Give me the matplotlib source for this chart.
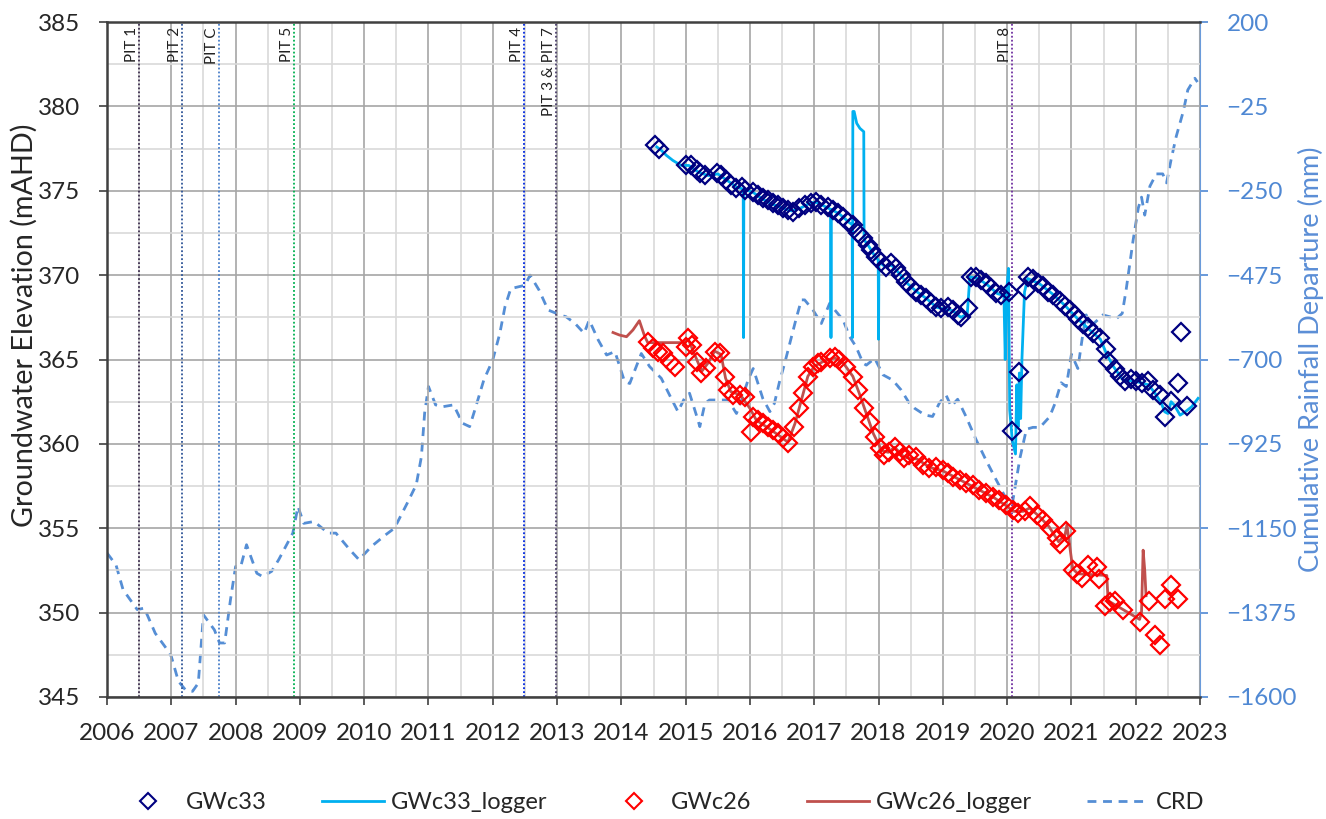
import matplotlib
matplotlib.use('Agg')
import matplotlib.pyplot as plt
from matplotlib.ticker import MultipleLocator
from matplotlib.lines import Line2D

plt.rcParams['font.family'] = ['Lato', 'DejaVu Sans']

# CRD - desviacion acumulada de lluvia (mm), eje derecho
crd_year = [2006.00, 2006.14, 2006.25, 2006.47, 2006.58, 2006.75, 2006.92, 2007.00, 2007.11, 2007.22,
            2007.33, 2007.42, 2007.50, 2007.67, 2007.75, 2007.83, 2007.92, 2008.00, 2008.08, 2008.17,
            2008.33, 2008.42, 2008.56, 2008.67, 2008.89, 2008.97, 2009.06, 2009.22, 2009.44, 2009.56,
            2009.78, 2009.92, 2010.11, 2010.33, 2010.47, 2010.67, 2010.81, 2010.89, 2010.94, 2011.00,
            2011.11, 2011.22, 2011.39, 2011.53, 2011.64, 2011.72, 2011.86, 2012.00, 2012.11, 2012.19,
            2012.28, 2012.50, 2012.58, 2012.72, 2012.86, 2013.06, 2013.14, 2013.28, 2013.42, 2013.50,
            2013.64, 2013.77, 2013.90, 2014.05, 2014.13, 2014.31, 2014.44, 2014.62, 2014.75, 2014.88,
            2014.98, 2015.06, 2015.19, 2015.22, 2015.30, 2015.37, 2015.53, 2015.66, 2015.79, 2015.87,
            2015.97, 2016.05, 2016.20, 2016.31, 2016.38, 2016.46, 2016.54, 2016.62, 2016.72, 2016.80,
            2016.85, 2016.98, 2017.11, 2017.24, 2017.32, 2017.45, 2017.55, 2017.65, 2017.76, 2017.81,
            2017.94, 2018.07, 2018.22, 2018.35, 2018.48, 2018.56, 2018.72, 2018.84, 2018.95, 2019.05,
            2019.13, 2019.23, 2019.36, 2019.52, 2019.67, 2019.83, 2019.98, 2020.08, 2020.20, 2020.30,
            2020.40, 2020.51, 2020.66, 2020.74, 2020.84, 2020.92, 2021.00, 2021.10, 2021.18, 2021.23,
            2021.28, 2021.49, 2021.70, 2021.79, 2021.85, 2021.96, 2022.04, 2022.09, 2022.14, 2022.22,
            2022.32, 2022.42, 2022.48, 2022.55, 2022.63, 2022.74, 2022.81, 2022.92, 2022.96]
crd_mm = [-1216, -1248, -1314, -1367, -1363, -1430, -1470, -1492, -1558, -1581,
          -1585, -1563, -1381, -1421, -1456, -1456, -1341, -1252, -1252, -1194,
          -1270, -1279, -1265, -1234, -1163, -1092, -1137, -1132, -1163, -1163,
          -1208, -1234, -1199, -1168, -1150, -1083, -1034, -959, -843, -772,
          -821, -826, -821, -870, -879, -835, -755, -701, -630, -559,
          -511, -502, -475, -515, -568, -582, -586, -604, -630, -595,
          -648, -688, -679, -759, -764, -684, -719, -750, -795, -839,
          -804, -790, -861, -879, -817, -808, -808, -808, -844, -808,
          -755, -724, -804, -839, -817, -759, -710, -657, -590, -541,
          -541, -568, -604, -550, -568, -595, -639, -666, -710, -715,
          -697, -741, -755, -781, -817, -830, -848, -852, -815, -795,
          -825, -806, -852, -915, -968, -1021, -1070, -1085, -962, -886,
          -881, -881, -853, -819, -762, -772, -686, -724, -629, -581,
          -615, -581, -591, -577, -515, -381, -296, -267, -315, -238,
          -205, -205, -229, -167, -105, -38, 19, 50, 40]

# GWc33 - lecturas manuales (mAHD)
gwc33_year = [2014.52, 2014.59, 2015.01, 2015.09, 2015.17, 2015.22, 2015.30, 2015.48, 2015.55, 2015.63,
              2015.71, 2015.79, 2015.87, 2015.92, 2016.05, 2016.12, 2016.20, 2016.28, 2016.36, 2016.44,
              2016.51, 2016.59, 2016.67, 2016.77, 2016.85, 2016.95, 2017.03, 2017.11, 2017.21, 2017.29,
              2017.37, 2017.45, 2017.52, 2017.60, 2017.68, 2017.76, 2017.83, 2017.89, 2017.96, 2018.04,
              2018.12, 2018.20, 2018.27, 2018.35, 2018.43, 2018.51, 2018.59, 2018.66, 2018.74, 2018.82,
              2018.90, 2018.97, 2019.08, 2019.16, 2019.23, 2019.28, 2019.39, 2019.44, 2019.52, 2019.60,
              2019.67, 2019.75, 2019.83, 2019.91, 2020.03, 2020.08, 2020.19, 2020.29, 2020.33, 2020.40,
              2020.48, 2020.56, 2020.64, 2020.72, 2020.82, 2020.90, 2020.97, 2021.05, 2021.10, 2021.18,
              2021.26, 2021.34, 2021.44, 2021.54, 2021.57, 2021.67, 2021.75, 2021.83, 2021.93, 2022.01,
              2022.09, 2022.19, 2022.27, 2022.37, 2022.45, 2022.55, 2022.66, 2022.71, 2022.79]
gwc33_level = [377.70, 377.45, 376.53, 376.53, 376.23, 376.03, 375.93, 376.03, 375.93, 375.64,
               375.34, 375.14, 375.24, 375.05, 374.95, 374.75, 374.55, 374.45, 374.25, 374.16,
               373.96, 373.86, 373.76, 373.96, 374.16, 374.25, 374.35, 374.16, 374.06, 373.86,
               373.66, 373.47, 373.17, 372.97, 372.48, 372.18, 371.79, 371.49, 371.10, 370.80,
               370.50, 370.70, 370.40, 370.00, 369.61, 369.32, 369.02, 368.82, 368.62, 368.33,
               368.13, 368.03, 368.13, 367.93, 367.64, 367.54, 368.03, 369.90, 369.90, 369.71,
               369.51, 369.21, 368.92, 368.82, 369.00, 360.76, 364.25, 369.12, 369.86, 369.75,
               369.54, 369.33, 369.01, 368.80, 368.48, 368.17, 367.95, 367.64, 367.42, 367.11,
               366.90, 366.58, 366.26, 365.63, 364.89, 364.46, 364.04, 363.72, 363.83, 363.72,
               363.62, 363.72, 363.19, 362.87, 361.60, 362.56, 363.62, 366.62, 362.24]

# GWc33 - datalogger
gwc33_log_year = [2014.55, 2014.62, 2014.70, 2014.80, 2014.93, 2015.05, 2015.20, 2015.35, 2015.50, 2015.65,
                  2015.80, 2015.895, 2015.90, 2015.905, 2016.05, 2016.20, 2016.35, 2016.50, 2016.65, 2016.80,
                  2016.95, 2017.05, 2017.20, 2017.255, 2017.26, 2017.265, 2017.40, 2017.55, 2017.59, 2017.595,
                  2017.60, 2017.62, 2017.66, 2017.71, 2017.77, 2017.775, 2017.85, 2017.93, 2017.995, 2018.00,
                  2018.005, 2018.10, 2018.20, 2018.30, 2018.45, 2018.60, 2018.75, 2018.90, 2019.00, 2019.15,
                  2019.28, 2019.38, 2019.42, 2019.55, 2019.70, 2019.85, 2019.95, 2019.97, 2019.99, 2020.02,
                  2020.04, 2020.08, 2020.13, 2020.15, 2020.17, 2020.19, 2020.21, 2020.23, 2020.27, 2020.32,
                  2020.50, 2020.70, 2020.90, 2021.10, 2021.30, 2021.45, 2021.55, 2021.65, 2021.80, 2022.00,
                  2022.20, 2022.30, 2022.40, 2022.45, 2022.50, 2022.55, 2022.60, 2022.69, 2022.77, 2022.87,
                  2022.97]
gwc33_log_level = [377.6, 377.4, 377.1, 376.8, 376.5, 376.5, 376.1, 375.9, 376.0, 375.6,
                   375.2, 375.1, 366.3, 375.1, 374.9, 374.5, 374.2, 374.0, 373.8, 374.0,
                   374.3, 374.3, 374.0, 373.9, 366.3, 373.9, 373.6, 373.1, 373.0, 366.3,
                   379.7, 379.7, 379.0, 378.7, 378.5, 372.1, 371.7, 371.2, 370.9, 366.2,
                   370.8, 370.5, 370.6, 370.2, 369.5, 369.0, 368.6, 368.1, 368.0, 367.9,
                   367.5, 367.7, 369.9, 369.8, 369.4, 368.9, 368.8, 365.0, 368.9, 370.4,
                   362.0, 360.2, 359.4, 363.5, 361.0, 364.2, 361.5, 365.0, 369.0, 369.8,
                   369.5, 368.9, 368.2, 367.4, 366.7, 366.2, 365.3, 364.6, 363.8, 363.7,
                   363.5, 363.0, 362.4, 361.9, 361.8, 362.5, 362.3, 361.7, 361.9, 362.2,
                   362.7]

# GWc26 - lecturas manuales (mAHD)
gwc26_year = [2014.41, 2014.49, 2014.57, 2014.65, 2014.75, 2014.84, 2015.00, 2015.04, 2015.10, 2015.17,
              2015.24, 2015.32, 2015.45, 2015.53, 2015.61, 2015.66, 2015.74, 2015.84, 2015.92, 2016.02,
              2016.05, 2016.12, 2016.20, 2016.28, 2016.36, 2016.44, 2016.51, 2016.59, 2016.69, 2016.77,
              2016.82, 2016.90, 2016.98, 2017.06, 2017.11, 2017.24, 2017.32, 2017.39, 2017.50, 2017.60,
              2017.68, 2017.78, 2017.86, 2017.94, 2018.02, 2018.09, 2018.17, 2018.25, 2018.33, 2018.40,
              2018.48, 2018.59, 2018.69, 2018.79, 2018.90, 2019.00, 2019.08, 2019.16, 2019.26, 2019.36,
              2019.47, 2019.57, 2019.67, 2019.78, 2019.88, 2019.98, 2020.09, 2020.17, 2020.27, 2020.35,
              2020.46, 2020.56, 2020.66, 2020.77, 2020.82, 2020.92, 2021.03, 2021.09, 2021.17, 2021.26,
              2021.39, 2021.43, 2021.52, 2021.60, 2021.67, 2021.80, 2022.06, 2022.21, 2022.30, 2022.37,
              2022.45, 2022.55, 2022.66]
gwc26_level = [366.06, 365.66, 365.46, 365.36, 364.87, 364.57, 365.76, 366.25, 365.86, 364.87,
               364.18, 364.48, 365.46, 365.36, 363.98, 363.19, 362.90, 362.90, 362.80, 360.72,
               361.61, 361.41, 361.22, 361.02, 360.82, 360.62, 360.33, 360.03, 361.02, 362.11,
               362.99, 363.98, 364.57, 364.77, 364.87, 365.07, 365.17, 364.97, 364.57, 363.98,
               363.19, 362.11, 361.32, 360.43, 359.73, 359.34, 359.54, 359.83, 359.54, 359.14,
               359.34, 359.24, 358.75, 358.55, 358.65, 358.45, 358.25, 358.06, 357.86, 357.66,
               357.56, 357.27, 357.07, 356.87, 356.67, 356.38, 356.08, 355.89, 356.00, 356.31,
               355.79, 355.47, 355.04, 354.41, 354.09, 354.83, 352.50, 352.29, 352.08, 352.82,
               352.72, 351.98, 350.39, 350.60, 350.71, 350.18, 349.44, 350.71, 348.70, 348.06,
               350.81, 351.66, 350.81]

# GWc26 - datalogger
gwc26_log_year = [2013.87, 2013.97, 2014.08, 2014.18, 2014.28, 2014.36, 2014.41, 2014.96, 2015.04, 2015.15,
                  2015.25, 2015.35, 2015.45, 2015.55, 2015.62, 2015.70, 2015.85, 2016.00, 2016.10, 2016.30,
                  2016.45, 2016.59, 2016.70, 2016.80, 2016.90, 2017.00, 2017.15, 2017.32, 2017.45, 2017.60,
                  2017.70, 2017.80, 2017.92, 2018.05, 2018.15, 2018.25, 2018.40, 2018.60, 2018.80, 2019.00,
                  2019.20, 2019.40, 2019.60, 2019.80, 2020.00, 2020.10, 2020.25, 2020.35, 2020.50, 2020.65,
                  2020.80, 2020.90, 2020.93, 2021.02, 2021.10, 2021.55, 2021.57, 2021.75, 2022.06, 2022.09,
                  2022.115, 2022.14, 2022.16]
gwc26_log_level = [366.6, 366.45, 366.35, 366.75, 367.3, 366.4, 366.0, 366.0, 366.2, 365.2,
                   364.3, 364.8, 365.5, 365.3, 363.9, 363.1, 362.9, 362.1, 361.4, 360.9,
                   360.5, 360.1, 361.2, 362.6, 364.0, 364.6, 364.9, 365.1, 364.8, 364.0,
                   363.0, 361.9, 360.6, 359.6, 359.5, 359.8, 359.2, 359.1, 358.6, 358.4,
                   358.0, 357.6, 357.2, 356.8, 356.3, 356.0, 356.0, 356.2, 355.7, 355.1,
                   354.2, 354.6, 355.2, 352.6, 352.3, 352.2, 350.7, 350.3, 349.6, 350.0,
                   353.7, 352.5, 351.0]

# Pits (fecha, etiqueta, color)
pit_year = [2006.49, 2007.16, 2007.74, 2008.91, 2012.49, 2012.99, 2020.08]
pit_label = ['PIT 1', 'PIT 2', 'PIT C', 'PIT 5', 'PIT 4', 'PIT 3 & PIT 7', 'PIT 8']
pit_color = ['#3F3151', '#2F5597', '#4A7FC9', '#00B050', '#0026E0', '#4B3F6B', '#7030A0']

blue_axis = '#4F88D3'


def fit_length(txt, target_px):
    # ajusta el tamaño de letra para que el texto rotado mida target_px
    fig.canvas.draw()
    h = txt.get_window_extent().height
    txt.set_fontsize(txt.get_fontsize() * target_px / h)


fig = plt.figure(figsize=(13.26, 8.19), dpi=100)
ax1 = fig.add_axes([0.0807, 0.149, 0.8243, 0.8241])
ax2 = ax1.twinx()
ax1.set_zorder(ax2.get_zorder() + 1)
ax1.patch.set_visible(False)

# CRD en eje secundario
ax2.plot(crd_year, crd_mm, color='#558ED5', lw=2.0, dashes=(3.2, 2.4), label='CRD')
ax2.set_ylim(-1600, 200)
ax2.set_yticks(range(-1600, 201, 225))
ax2.tick_params(axis='y', colors=blue_axis, labelsize=17.5, length=6, width=1.2, pad=13)
ax2.set_ylabel('Cumulative Rainfall Departure (mm)', color='#5B8ED6', fontsize=17)
ax2.yaxis.set_label_coords(1.0895, 0.5)
for s in ['top', 'bottom', 'left']:
    ax2.spines[s].set_visible(False)
ax2.spines['right'].set_color('#6A9BDB')
ax2.spines['right'].set_linewidth(1.5)

# Pits
for yr, lab, col in zip(pit_year, pit_label, pit_color):
    ax1.axvline(yr, color=col, ls=(0, (1, 1.2)), lw=1.3, zorder=2)
    ax1.text(yr, 384.7, lab, rotation=90, ha='right', va='top', fontsize=11, color='#222222')

# Series de nivel
ax1.plot(gwc33_log_year, gwc33_log_level, color='#00B0F0', lw=2.0, zorder=3, label='GWc33_logger')
ax1.plot(gwc33_year, gwc33_level, ls='none', marker='D', ms=9, mfc='none', mec='#000080',
         mew=1.6, zorder=4, label='GWc33')
ax1.plot(gwc26_log_year, gwc26_log_level, color='#C0504D', lw=2.0, zorder=3, label='GWc26_logger')
ax1.plot(gwc26_year, gwc26_level, ls='none', marker='D', ms=9, mfc='none', mec='#FF0000',
         mew=1.6, zorder=4, label='GWc26')

ax1.set_xlim(2006, 2023)
ax1.set_ylim(345, 385)
ax1.set_xticks(range(2006, 2024))
ax1.set_xticklabels([str(y) for y in range(2006, 2024)])
ax1.set_yticks(range(345, 386, 5))
ax1.xaxis.set_minor_locator(MultipleLocator(0.5))
ax1.yaxis.set_minor_locator(MultipleLocator(2.5))
ax1.grid(which='major', color='#A6A6A6', lw=1.2)
ax1.grid(which='minor', color='#D9D9D9', lw=1.2)
ax1.set_axisbelow(True)
ax1.tick_params(which='major', labelsize=17.5, length=6, width=1.2, color='#404040',
                labelcolor='#262626', pad=13)
ax1.tick_params(which='minor', length=0)
ax1.set_ylabel('Groundwater Elevation (mAHD)', fontsize=16, color='#262626')
ax1.yaxis.set_label_coords(-0.063, 0.55)
for s in ['left', 'bottom', 'top']:
    ax1.spines[s].set_color('#404040')
    ax1.spines[s].set_linewidth(1.8)
ax1.spines['right'].set_visible(False)

# tamaño de los titulos de eje segun su largo en la figura
fit_length(ax1.yaxis.label, 405)
fit_length(ax2.yaxis.label, 425)

# Leyenda abajo
handles = [
    Line2D([], [], ls='none', marker='D', ms=8, mfc='none', mec='#000080', mew=1.5),
    Line2D([], [], color='#00B0F0', lw=2.0),
    Line2D([], [], ls='none', marker='D', ms=8, mfc='none', mec='#FF0000', mew=1.5),
    Line2D([], [], color='#C0504D', lw=2.0),
    Line2D([], [], color='#558ED5', lw=2.0, dashes=(3.2, 2.4)),
]
labels = ['GWc33', 'GWc33_logger', 'GWc26', 'GWc26_logger', 'CRD']
fig.legend(handles, labels, loc='center', bbox_to_anchor=(0.4985, 0.02), ncol=5, frameon=False,
           fontsize=17, columnspacing=2.35, handlelength=2.6, handletextpad=0.3,
           labelcolor='#262626')

fig.savefig('out.png', dpi=100)
